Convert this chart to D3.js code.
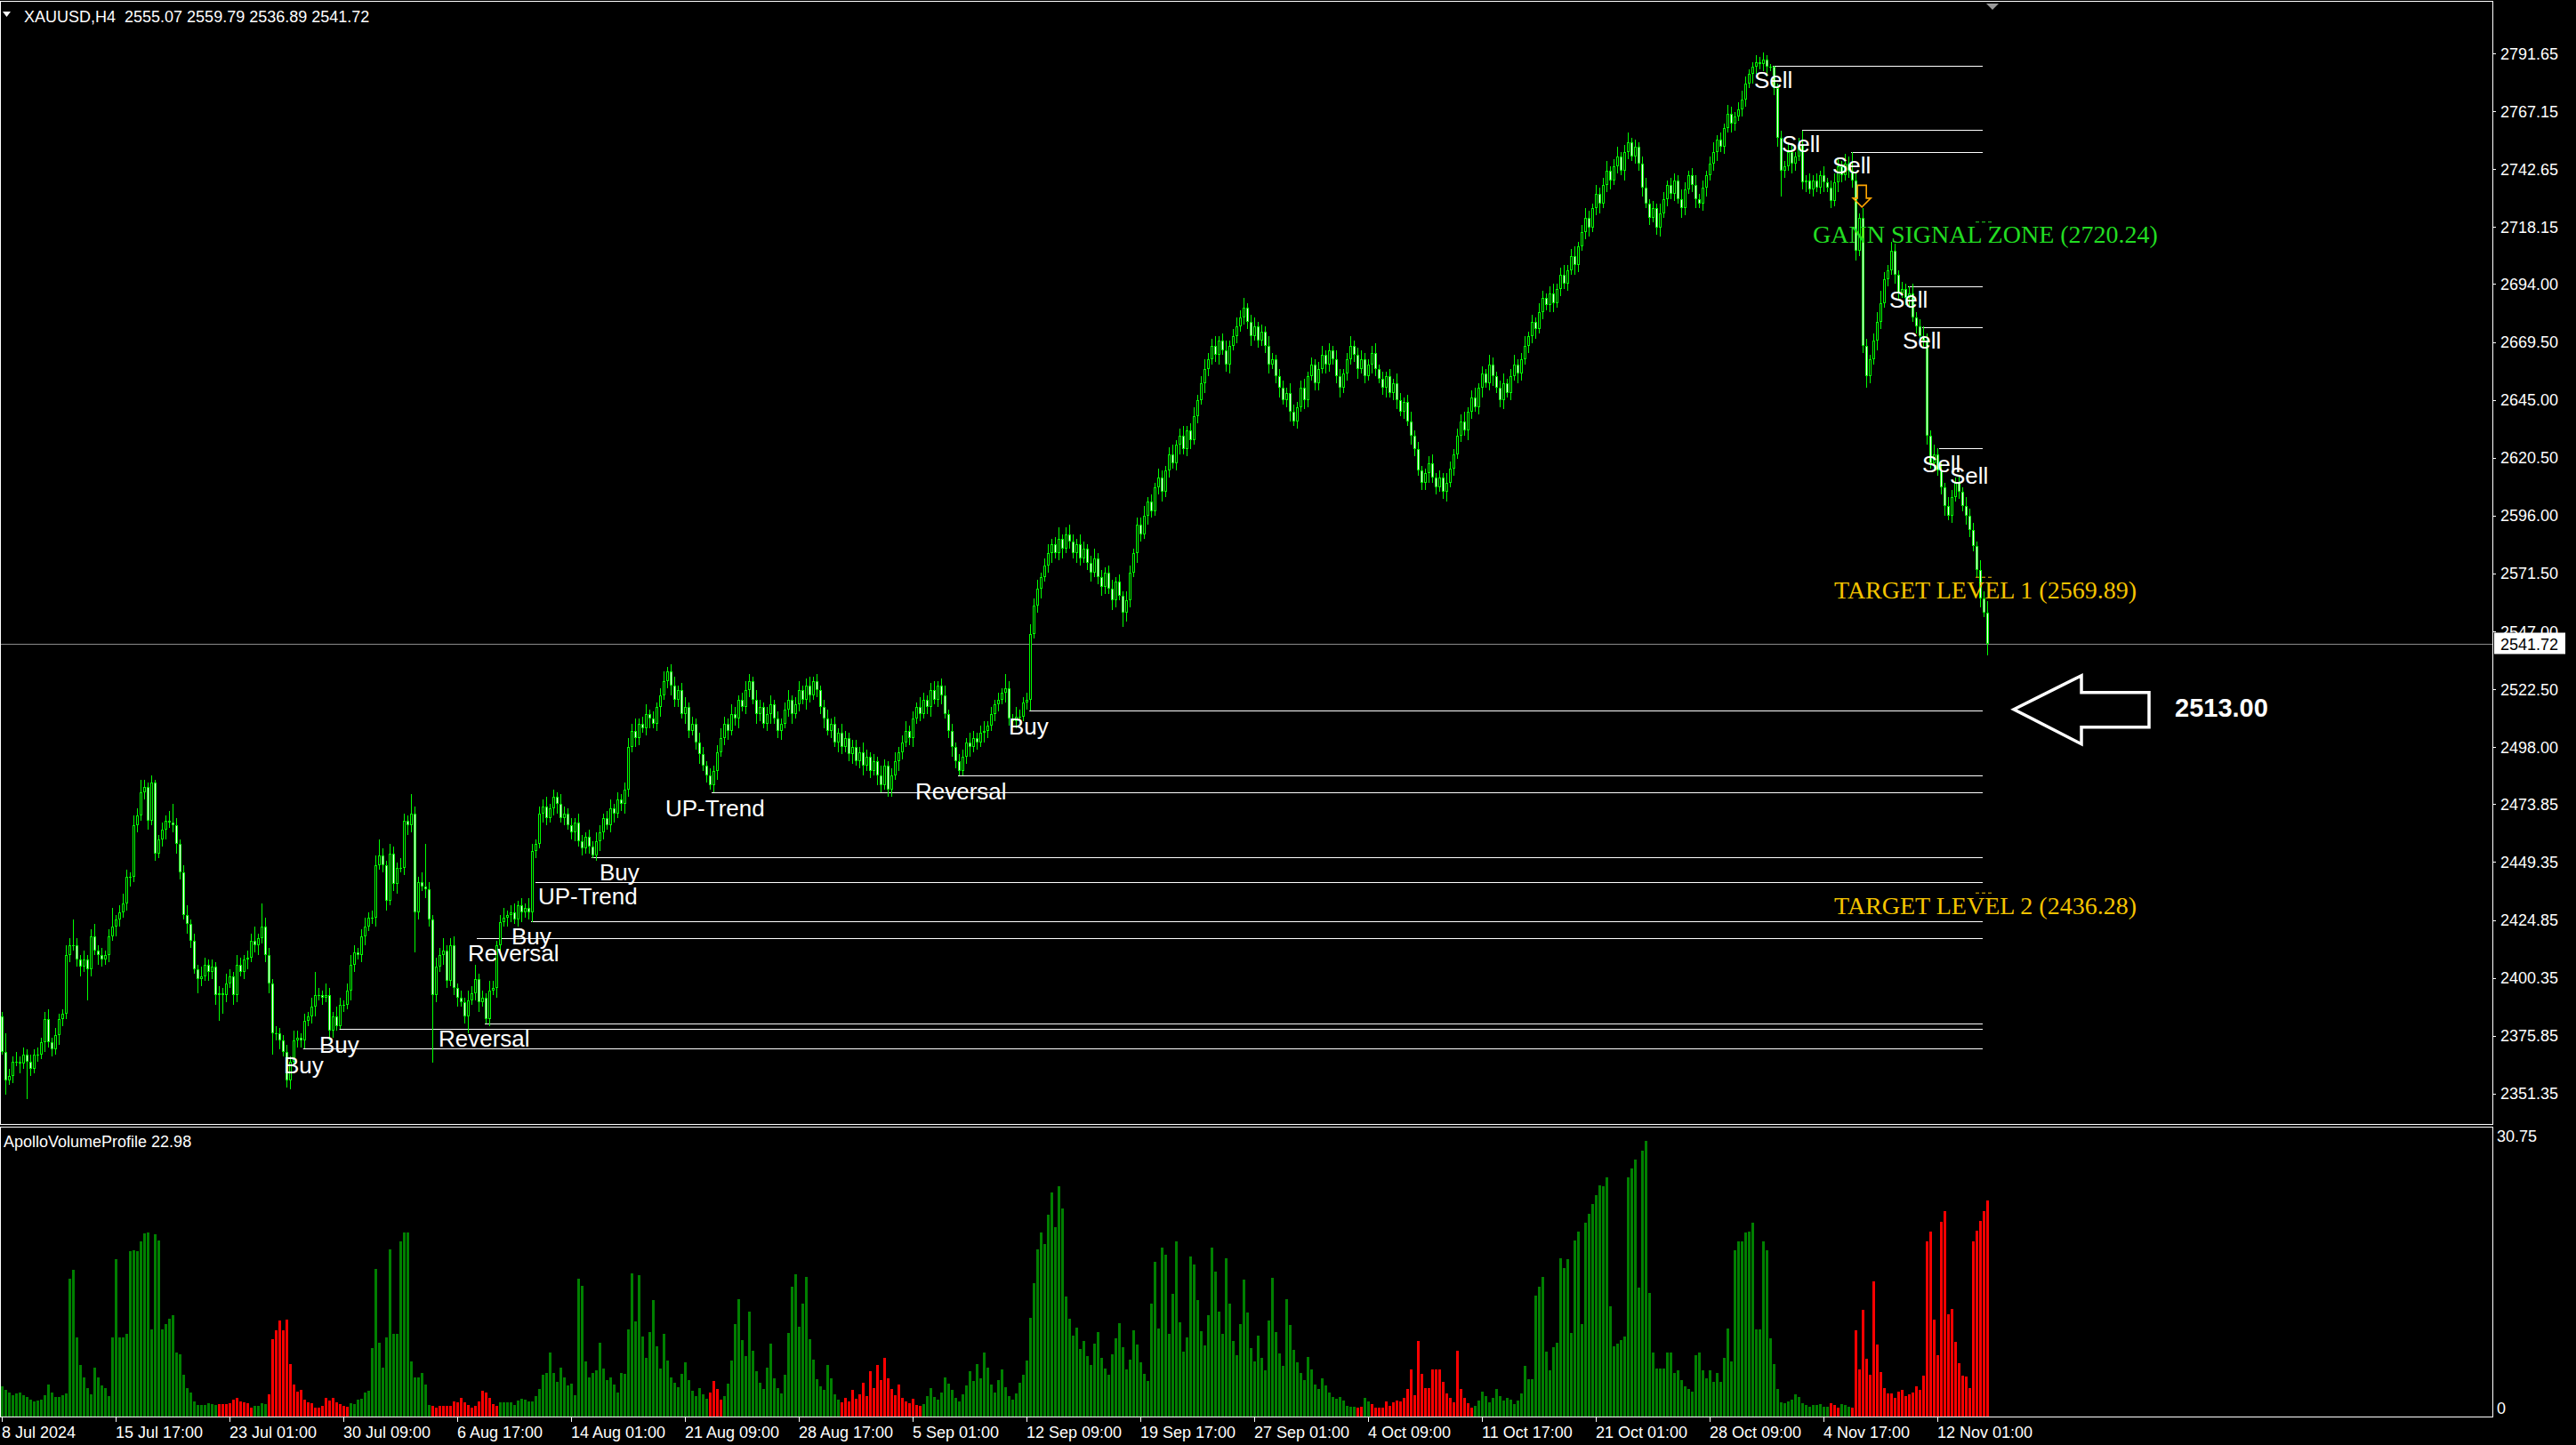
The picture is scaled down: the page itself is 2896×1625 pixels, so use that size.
<!DOCTYPE html>
<html><head><meta charset="utf-8">
<script src="https://cdn.jsdelivr.net/npm/d3@7/dist/d3.min.js"></script>
<style>html,body{margin:0;padding:0;background:#000;overflow:hidden}</style>
</head><body><svg id="c" width="2896" height="1625"></svg>
<script>
// ---------- DATA ----------
const symbolTitle = "XAUUSD,H4";
const lastQuote = [2555.07, 2559.79, 2536.89, 2541.72]; // O H L C of last bar
const firstOpen = 2384;
const closes = [
2369,2357,2359,2365,2365,2364,2368,2365,2362,2368,
2368,2373,2383,2373,2370,2376,2383,2385,2410,2414,
2414,2408,2405,2408,2404,2418,2412,2410,2408,2410,
2418,2422,2425,2428,2432,2443,2443,2465,2469,2479,
2481,2467,2483,2453,2459,2463,2467,2466,2465,2457,
2445,2427,2423,2416,2404,2400,2401,2406,2403,2405,
2393,2394,2393,2398,2401,2393,2406,2403,2408,2409,
2416,2414,2417,2422,2410,2398,2377,2377,2374,2369,
2357,2365,2374,2375,2374,2382,2384,2388,2393,2393,
2392,2393,2378,2384,2380,2389,2389,2395,2406,2411,
2410,2418,2422,2426,2426,2448,2452,2448,2433,2453,
2440,2447,2447,2467,2465,2470,2428,2441,2439,2438,
2425,2393,2405,2410,2412,2399,2414,2396,2392,2390,
2384,2391,2394,2400,2390,2392,2383,2395,2396,2414,
2424,2426,2427,2428,2425,2431,2428,2430,2428,2454,
2457,2470,2473,2468,2472,2477,2474,2468,2470,2465,
2462,2466,2458,2455,2460,2456,2452,2458,2462,2468,
2465,2472,2470,2476,2474,2480,2498,2505,2502,2508,
2506,2512,2510,2508,2515,2520,2526,2530,2524,2518,
2522,2512,2515,2505,2508,2500,2495,2490,2486,2482,
2488,2496,2502,2508,2505,2512,2510,2518,2515,2522,
2526,2518,2512,2515,2508,2512,2516,2510,2505,2508,
2514,2518,2512,2516,2522,2518,2524,2520,2526,2522,
2515,2510,2505,2508,2500,2504,2498,2502,2495,2498,
2492,2496,2490,2494,2488,2492,2486,2482,2490,2480,
2486,2492,2496,2500,2505,2502,2510,2515,2512,2518,
2515,2522,2518,2524,2520,2512,2505,2498,2492,2488,
2494,2500,2498,2502,2500,2504,2505,2507,2512,2516,
2518,2521,2523,2510,2509,2511,2511,2517,2518,2546,
2558,2565,2570,2575,2580,2584,2580,2586,2582,2588,
2585,2580,2584,2578,2582,2576,2572,2578,2570,2566,
2572,2565,2560,2568,2562,2555,2560,2572,2580,2592,
2588,2596,2602,2598,2608,2612,2606,2615,2622,2618,
2626,2630,2624,2632,2628,2638,2645,2652,2658,2662,
2668,2664,2670,2666,2660,2668,2672,2676,2680,2684,
2678,2672,2676,2670,2674,2668,2660,2662,2655,2650,
2645,2648,2640,2636,2642,2650,2645,2655,2660,2652,
2658,2664,2660,2666,2662,2655,2650,2656,2662,2668,
2664,2658,2662,2655,2660,2665,2658,2654,2650,2655,
2648,2652,2645,2640,2644,2636,2630,2624,2615,2610,
2614,2618,2612,2608,2612,2606,2610,2616,2622,2630,
2636,2632,2640,2646,2642,2650,2656,2652,2660,2655,
2650,2645,2652,2648,2655,2660,2656,2662,2668,2672,
2678,2675,2682,2688,2685,2690,2686,2692,2698,2694,
2700,2706,2702,2710,2716,2722,2718,2726,2732,2728,
2736,2742,2738,2744,2748,2742,2750,2754,2748,2752,
2745,2735,2728,2722,2726,2718,2724,2730,2736,2732,
2738,2730,2726,2734,2740,2736,2730,2728,2735,2740,
2745,2750,2755,2752,2760,2766,2762,2765,2768,2772,
2779,2783,2786,2788,2787,2789,2786,2786,2777,2756,
2742,2744,2750,2745,2748,2753,2737,2738,2734,2738,
2735,2740,2737,2735,2729,2737,2744,2740,2745,2742,
2738,2708,2722,2668,2655,2662,2670,2678,2686,2696,
2700,2708,2698,2690,2692,2688,2690,2680,2676,2672,
2670,2630,2618,2622,2615,2608,2600,2596,2604,2610,
2606,2600,2596,2590,2583,2573,2561,2555.07,2541.72];
const upperWick = [
2,8,3,2,4,2,3,2,3,2, 3,2,3,4,2,3,2,2,4,3, 11,3,2,4,2,3,5,2,3,2, 3,8,2,3,4,3,2,4,3,5,
3,2,3,1,2,3,2,4,8,3, 2,3,4,2,3,2,4,3,2,3, 2,3,2,4,3,2,4,3,2,3, 3,6,2,10,4,3,2,3,2,2,
3,2,4,3,2,3,2,4,10,3, 2,5,3,2,4,3,2,3,4,3, 2,3,4,2,3,4,7,3,2,4, 3,2,4,3,2,8,3,2,4,18,
3,2,4,3,5,2,3,4,2,3, 2,4,3,6,2,3,2,4,3,2, 3,4,2,3,4,2,3,2,4,3, 2,3,3,4,2,3,2,4,3,2,
3,2,4,3,2,3,2,4,3,2, 3,4,2,3,2,3,4,3,5,2, 3,4,2,3,2,3,4,2,3,4, 2,3,4,2,3,2,4,3,2,3,
2,3,4,3,2,4,3,2,3,4, 3,2,4,3,2,3,4,2,3,2, 3,4,2,3,4,2,3,4,2,3, 2,3,4,2,3,2,4,3,2,3,
3,2,4,3,2,3,2,4,3,2, 3,4,2,3,4,2,3,2,4,3, 2,3,4,2,3,4,2,3,2,3, 3,2,4,3,2,3,4,2,3,2,
3,2,6,3,2,4,3,2,3,4, 3,4,2,3,4,2,3,5,2,3, 4,3,2,4,3,2,3,4,2,3, 2,3,4,2,3,2,4,3,2,3,
3,4,2,3,2,4,3,2,3,4, 2,3,4,2,3,4,2,3,4,3, 3,4,2,3,4,2,3,4,3,4, 2,3,4,2,3,2,4,3,2,3,
3,2,4,3,2,3,4,2,3,2, 3,4,2,3,2,4,3,2,3,4, 2,3,4,3,2,3,4,2,3,2, 3,2,4,3,2,3,4,2,3,2,
2,3,4,2,3,2,4,3,2,3, 3,4,2,3,4,2,3,2,4,3, 2,3,4,2,3,4,2,3,4,2, 3,2,4,3,2,3,4,2,3,4,
2,3,4,2,3,4,3,2,4,3, 3,4,2,3,4,2,3,4,2,3, 2,3,4,2,3,2,4,3,2,3, 3,2,4,3,2,3,4,2,3,2,
3,4,2,3,2,4,3,2,3,4, 3,2,2,3,2,3,2,1,0.3,2, 3,2,4,3,2,3,6,2,3,2, 3,2,4,2,3,4,3,2,4,3,
8,3,2,4,3,2,3,4,5,3, 2,4,3,2,3,2,3,4,2,3, 4,3,2,4,2.5,3,2,4,3,2, 3,2,4,3,3,2,4,3,4.72];
const lowerWick = [
1,6,2,3,2,4,2,16,3,2, 3,2,4,2,3,2,4,3,2,3, 2,3,4,2,13,3,2,4,3,2, 3,2,4,3,2,3,4,2,3,2,
3,4,2,3,2,3,4,2,3,4, 3,2,4,3,2,6,3,2,4,3, 4,11,8,3,2,4,3,2,3,4, 2,3,4,2,3,4,9,3,4,2,
3,4,2,3,3,3.6,2,3,4,2, 3,2,4,3,2,1.4,3,2,4,3, 2,3,4,2,3,4,2,3,4,2, 3,4,2,3,4,3,17,3,2,4,
3,28.5,3,2,4,3,2,3,4,2, 3,7,2,3,4,2,2,3,2,4, 3,2,4,3,2,3,4,2,3,4, 3,2,4,3,2,3,4,2,3,2,
3,4,2,3,2,3,1,2,4,3, 2,3,4,2,3,4,3,2,4,3, 2,3,4,2,3,4,2,3,4,3, 3,2,4,3,2,3,4,2,3,2,
3,4,2,3,4,2,3,4,2,3, 3,2,4,3,2,3,4,2,3,4, 2,3,4,2,3,2,4,3,2,3, 3,4,2,3,2,4,3,2,3,4,
2,3,4,2,3,2,4,3,2,3, 3,2,4,3,2,3,4,2,3,2, 3,4,2,3,4,2,3,4,3,2, 2,3,4,2,3,2,4,3,2,3,
3,2,4,3,2,3,4,2,3,4.6, 2,3,4,2,3,4,2,3,4,2, 3,2,4,3,2,3,4,2,3,4, 3,2,4,3,2,6,4,3,2,4,
3,2,4,3,2,3,4,2,3,2, 3,4,2,3,4,2,3,2,4,3, 2,3,4,2,3,4,2,3,2,3, 3,4,2,3,2,3,4,2,3,4,
2,3,4,2,3,2,4,3,2,3, 3,2,4,3,2,3,4,2,3,2, 3,4,2,3,2,4,3,2,3,4, 2,3,4,2,3,2,4,3,2,3,
3,4,2,3,2,3,4,2,3,2, 3,2,4,3,2,3,4,2,3,4, 2,3,4,2,3,2,4,3,2,3, 3,4,2,3,2,3,4,2,3,2,
3,2,4,3,2,3,4,2,3,4, 2,3,4,2,3,2,4,3,2,3, 3,4,2,3,2,3,4,2,3,2, 3,2,4,3,2,3,4,2,3,4,
2,3,4,2,3,2,4,3,2,3, 3,2,4,3,2,3,4,2,3,4, 11,3,2,4,3,2,3,4,2,3, 2,3,4,2,3,2,4,3,2,3,
3,4,2,3,5,3,2,4,3,2, 3,2,4,3,2,3,4,2,3,2, 3,4,2,3,2,3,4,2,3,2, 3,2,4,3,2,3,4,2,4.83];
const volumes = [
3.2,2.8,2.6,2.3,2.5,2.6,2.3,2.1,1.8,1.6, 1.7,1.8,2.3,3.4,2.6,2.1,2.1,2.3,2.5,14.7,
15.6,8.4,5.5,4.2,3.0,2.4,5.2,4.2,3.3,3.0, 2.2,8.4,16.7,8.4,8.4,8.8,17.6,17.7,17.6,18.6,
19.5,19.6,9.3,19.4,18.7,9.3,9.8,10.4,10.8,6.8, 6.6,4.4,3.0,2.6,1.6,1.2,1.2,1.2,1.4,1.3,
1.2,1.3,1.3,1.3,1.4,1.8,2.0,1.6,1.5,1.4, 0.95,1.1,1.1,1.4,1.3,2.4,8.2,9.2,10.2,9.2,
10.3,5.6,3.4,2.65,2.8,1.8,1.55,1.45,0.98,0.98, 1.17,2.0,1.7,2.0,1.55,1.36,1.17,1.07,1.45,1.36,
1.83,1.92,2.59,2.78,7.3,15.7,7.9,5.2,8.4,17.8, 8.8,8.8,18.6,19.6,19.6,5.9,4.2,4.2,4.6,3.4,
1.26,1.17,0.98,1.17,1.17,1.17,1.17,1.64,1.55,2.0, 1.55,1.26,0.98,1.17,1.64,2.78,2.59,2.0,1.36,1.17,
1.55,1.55,1.55,1.55,1.26,1.73,1.92,1.83,1.64,1.64, 2.21,2.96,4.4,4.6,6.8,4.6,3.7,5.2,4.2,3.3,
3.5,2.3,14.7,13.9,5.9,4.2,4.6,4.95,7.9,5.1, 3.9,4.2,3.4,2.6,4.6,
4.5,9.3,15.2,10.1,15.0,8.5,6.2,9.0,12.4,7.5,5.1,8.8,6.0,4.2,3.6,
3.1,4.5,5.8,3.9,2.7,2.2,3.0,2.4,1.9,
2.6,3.8,2.9,1.8,
2.2,3.5,6.0,9.8,12.5,8.1,6.4,11.2,7.0,4.8,3.6,2.9,5.2,7.8,4.1,3.0,2.5,4.4,8.9,13.8,15.1,9.6,12.0,14.9,8.2,6.1,4.0,3.2,2.8,5.5,4.1,2.4,
1.8,1.5,2.0,1.6,2.8,1.9,2.4,3.6,2.2,4.8,3.0,5.5,3.9,6.2,4.1,2.9,2.3,3.4,2.0,1.6,1.4,1.9,1.2,1.1,
1.3,2.2,3.0,2.1,1.8,2.6,4.2,3.5,2.8,2.0,1.6,2.4,3.3,4.8,3.8,5.6,4.1,6.8,5.2,3.4,2.6,3.9,5.0,3.1,2.2,1.8,2.5,3.6,4.4,6.0,
10.5,14.2,17.8,19.6,18.4,21.5,23.8,20.2,24.5,22.1,12.8,10.4,8.6,9.5,7.2,8.0,6.4,
5.5,7.8,9.0,6.2,5.1,4.4,6.6,8.3,9.9,7.4,5.0,6.1,9.2,7.7,5.8,4.5,3.8,
12.0,16.5,9.4,18.0,17.2,8.8,13.1,18.6,10.0,6.9,8.4,17.0,16.2,12.4,9.1,7.6,10.8,18.0,
15.4,11.2,8.8,16.8,12.0,8.0,6.5,9.8,14.6,11.1,7.3,5.9,8.6,6.2,4.9,
10.2,14.8,9.0,6.7,5.4,12.5,9.7,7.1,5.8,4.6,3.9,6.3,5.0,3.4,2.9,4.1,3.3,2.6,2.1,
1.89,2.11,1.73,1.17,1.07,1.07,0.98,1.07,2.02,1.64, 1.36,0.98,0.98,0.98,1.64,1.17,1.55,1.73,1.64,2.02,
2.96,5.05,2.30,8.07,4.57,3.06,3.06,5.05,5.05,5.05, 3.72,2.49,2.02,1.55,7.03,2.96,2.02,1.45,0.98,1.17,
1.73,2.68,2.21,1.55,2.02,2.96,2.21,1.73,2.02,1.83, 1.36,1.73,2.49,5.42,4.01,4.01,12.9,13.85,14.89,6.94,
4.95,7.41,7.89,16.87,15.83,16.78,8.93,18.77,19.71,9.87, 20.66,21.6,22.65,23.59,24.63,24.54,25.48,11.76,7.51,7.79,
8.17,8.55,25.48,26.43,27.38,13.75,28.32,29.36,13.18,6.84, 5.14,5.14,5.14,6.84,6.84,4.67,4.95,3.91,3.25,2.96,
2.68,6.56,6.84,4.95,4.10,4.95,3.72,4.67,3.72,6.28, 9.40,5.90,17.73,18.67,18.67,19.62,19.71,20.66,9.30,9.30,
18.67,17.73,8.36,5.61,2.96,1.55,1.45,1.64,1.83,2.40, 2.11,1.45,1.26,1.07,1.26,1.26,1.36,1.07,1.07,1.45,
1.26,0.98,1.36,1.26,1.07,0.98,9.21,5.05,11.39,6.18, 4.48,14.41,7.70,4.76,3.06,2.49,2.49,2.02,2.68,2.87,
2.21,2.40,2.59,3.25,2.87,4.38,18.67,19.71,10.35,6.56, 20.75,21.89,10.91,11.48,7.98,5.71,4.38,4.29,3.06,18.67,
19.81,20.85,21.89,22.98];
const redRanges = [[61,70],[75,97],[121,139],[199,202],[236,258],[381,382],[385,413],[514,516],[520,558]];
const volumeName = "ApolloVolumeProfile";
const volumeMax = 30.75;
const priceTicks = ["2791.65","2767.15","2742.65","2718.15","2694.00","2669.50","2645.00","2620.50","2596.00","2571.50","2547.00","2522.50","2498.00","2473.85","2449.35","2424.85","2400.35","2375.85","2351.35"];
const dateLabels = ["8 Jul 2024","15 Jul 17:00","23 Jul 01:00","30 Jul 09:00","6 Aug 17:00","14 Aug 01:00","21 Aug 09:00","28 Aug 17:00","5 Sep 01:00","12 Sep 09:00","19 Sep 17:00","27 Sep 01:00","4 Oct 09:00","11 Oct 17:00","21 Oct 01:00","28 Oct 09:00","4 Nov 17:00","12 Nov 01:00"];
const dateLabelBars = [0,32,64,96,128,160,192,224,256,288,320,352,384,416,448,480,512,544];
// signal labels: text, bar (left edge), price (baseline)
const signalLabels = [
["Sell",492.5,2777.0],["Sell",500.25,2749.8],["Sell",514.5,2740.8],["Sell",530.5,2684.0],
["Sell",534.25,2666.7],["Sell",539.75,2614.4],["Sell",547.5,2609.5],
["Buy",79.25,2359.8],["Buy",89.25,2368.6],["Reversal",122.75,2371.2],["Reversal",131,2407.4],
["Buy",143.25,2414.5],["UP-Trend",150.75,2431.5],["Buy",168,2441.6],["UP-Trend",186.5,2468.7],
["Reversal",256.75,2475.9],["Buy",283,2503.3]];
// signal lines: price, start bar
const signalLines = [
[2786.3,497.75],[2759.2,506],[2749.8,519.75],[2692.9,535.75],[2675.9,539.75],[2624.5,544.5],
[2513.4,288.8],[2485.9,268.75],[2478.8,199.5],[2451.3,165.75],[2440.8,150],[2424.3,148.75],
[2417.1,133.5],[2380.9,135.75],[2378.6,94.9],[2370.4,84.7]];
const signalLineEnd = 556.75;
const levelNames = ["GANN SIGNAL ZONE","TARGET LEVEL 1","TARGET LEVEL 2"];
const levelPrices = [2720.24, 2569.89, 2436.28];
const gannArrow = [522.8, 2735.8];   // bar, price (top of arrow)
const targetArrow = [565.5, 2514.0]; // bar, price (tip)
const targetValue = 2513.00;

// ---------- CHART ----------
const svg = d3.select("#c");
const FONT = "'Liberation Sans', Arial, sans-serif";
const LIME = "#00ff00";
const axisX = 2802;
const x = d3.scaleLinear().domain([0, 558]).range([2, 2234]);
const y = d3.scaleLinear().domain([2338.5, 2812.73]).range([1264, 4]);
const yv = d3.scaleLinear().domain([0, volumeMax]).range([1593, 1268]);

svg.append("rect").attr("width",2896).attr("height",1625).attr("fill","#000");
const defs = svg.append("defs");
defs.append("clipPath").attr("id","clipMain").append("rect").attr("x",1).attr("y",2).attr("width",axisX-1).attr("height",1262);
defs.append("clipPath").attr("id","clipVol").append("rect").attr("x",1).attr("y",1268).attr("width",axisX-1).attr("height",325);

const candles = closes.map((c,i)=>{
  const o = i===0 ? firstOpen : closes[i-1];
  const h = Math.max(o,c) + (upperWick[i] ?? 2);
  const l = Math.min(o,c) - (lowerWick[i] ?? 2);
  return {i,o,h,l,c};
});

// current price line
const lastY = Math.round(y(lastQuote[3])) + 0.5;
svg.append("line").attr("x1",0).attr("x2",axisX).attr("y1",lastY).attr("y2",lastY)
  .attr("stroke","#8a8a8a").attr("stroke-width",1);

const gMain = svg.append("g").attr("clip-path","url(#clipMain)");

// signal lines
gMain.append("g").selectAll("line").data(signalLines).join("line")
  .attr("x1",d=>x(d[1])).attr("x2",x(signalLineEnd))
  .attr("y1",d=>Math.round(y(d[0]))+0.5).attr("y2",d=>Math.round(y(d[0]))+0.5)
  .attr("stroke","#fff").attr("stroke-width",1.2);

// candles
const gc = gMain.append("g").attr("shape-rendering","crispEdges");
gc.selectAll("rect.w").data(candles).join("rect").attr("class","w")
  .attr("x",d=>Math.round(x(d.i))).attr("width",1)
  .attr("y",d=>y(d.h)).attr("height",d=>Math.max(1,y(d.l)-y(d.h))).attr("fill",LIME);
gc.selectAll("rect.b").data(candles).join("rect").attr("class","b")
  .attr("x",d=>Math.round(x(d.i))-1).attr("width",3)
  .attr("y",d=>y(Math.max(d.o,d.c))).attr("height",d=>Math.max(1,Math.abs(y(d.o)-y(d.c)))).attr("fill",LIME);
gc.selectAll("rect.f").data(candles.filter(d=>Math.abs(y(d.o)-y(d.c))>2.5)).join("rect").attr("class","f")
  .attr("x",d=>Math.round(x(d.i))).attr("width",1)
  .attr("y",d=>y(Math.max(d.o,d.c))+1).attr("height",d=>Math.abs(y(d.o)-y(d.c))-2)
  .attr("fill",d=>d.c>=d.o ? "#000" : "#fff");

// signal labels
gMain.append("g").selectAll("text").data(signalLabels).join("text")
  .attr("x",d=>x(d[1])).attr("y",d=>y(d[2])).text(d=>d[0])
  .attr("fill","#fff").attr("font-family",FONT).attr("font-size",26);

// level texts + dashes
const levelColors = ["#22dd22","#f5c400","#f5c400"];
levelPrices.forEach((p,k)=>{
  const ly = y(p);
  svg.append("line").attr("x1",x(554.75)).attr("x2",x(560)).attr("y1",ly).attr("y2",ly)
    .attr("stroke",levelColors[k]).attr("stroke-width",1).attr("stroke-dasharray","4,3");
  svg.append("text").attr("x",x(557.5)).attr("y",ly+23.5).attr("text-anchor","middle")
    .attr("font-family","'Liberation Serif','Times New Roman',serif").attr("font-size",28)
    .attr("fill",levelColors[k]).text(`${levelNames[k]} (${p.toFixed(2)})`);
});

// gann down arrow
{
  const ax = x(gannArrow[0]), ay = y(gannArrow[1]);
  const pts = [[-5,0],[5,0],[5,14.5],[10,14.5],[0,24.5],[-10,14.5],[-5,14.5]];
  svg.append("path").attr("d","M"+pts.map(p=>[ax+p[0],ay+p[1]].join(",")).join("L")+"Z")
    .attr("fill","none").attr("stroke","#ffa500").attr("stroke-width",1.6);
}
// target arrow (left pointing)
{
  const tx = x(targetArrow[0]), ty = y(targetArrow[1]);
  const pts = [[0,0],[76,-38],[76,-19],[152,-19],[152,20],[76,20],[76,39]];
  svg.append("path").attr("d","M"+pts.map(p=>[tx+p[0],ty+p[1]].join(",")).join("L")+"Z")
    .attr("fill","#000").attr("stroke","#fff").attr("stroke-width",3.5).attr("stroke-linejoin","miter");
  svg.append("text").attr("x",tx+181).attr("y",ty+8.5).text(targetValue.toFixed(2))
    .attr("fill","#fff").attr("font-family",FONT).attr("font-weight","bold").attr("font-size",29);
}

// volume bars
const isRed = i => redRanges.some(r=>i>=r[0]&&i<=r[1]);
svg.append("g").attr("clip-path","url(#clipVol)").attr("shape-rendering","crispEdges")
  .selectAll("rect").data(volumes).join("rect")
  .attr("x",(d,i)=>Math.round(x(i))-1).attr("width",3)
  .attr("y",d=>yv(d)).attr("height",d=>yv(0)-yv(d))
  .attr("fill",(d,i)=>isRed(i) ? "#ff0000" : "#008000");

// frames
const fr = svg.append("g").attr("fill","none").attr("stroke","#fff").attr("stroke-width",1).attr("shape-rendering","crispEdges");
fr.append("rect").attr("x",0.5).attr("y",1.5).attr("width",axisX-0.5).attr("height",1263);
fr.append("rect").attr("x",0.5).attr("y",1267.5).attr("width",axisX-0.5).attr("height",326);

// price axis
const pa = svg.append("g");
pa.selectAll("line").data(priceTicks).join("line")
  .attr("x1",axisX).attr("x2",axisX+4).attr("y1",d=>Math.round(y(+d))+0.5).attr("y2",d=>Math.round(y(+d))+0.5)
  .attr("stroke","#fff");
pa.selectAll("text").data(priceTicks).join("text")
  .attr("x",2811).attr("y",d=>y(+d)+6.5).text(d=>d)
  .attr("fill","#fff").attr("font-family",FONT).attr("font-size",18);
// current price tag
svg.append("rect").attr("x",2804).attr("y",lastY-13).attr("width",80).attr("height",24).attr("fill","#fff");
svg.append("text").attr("x",2811).attr("y",lastY+6.5).text(lastQuote[3].toFixed(2))
  .attr("fill","#000").attr("font-family",FONT).attr("font-size",18);

// volume axis
svg.append("text").attr("x",2807).attr("y",1284).text(volumeMax.toFixed(2)).attr("fill","#fff").attr("font-family",FONT).attr("font-size",18);
svg.append("text").attr("x",2807).attr("y",1590).text("0").attr("fill","#fff").attr("font-family",FONT).attr("font-size",18);
svg.append("text").attr("x",4).attr("y",1290).text(`${volumeName} ${volumes[volumes.length-1].toFixed(2)}`)
  .attr("fill","#fff").attr("font-family",FONT).attr("font-size",18);

// date axis
const da = svg.append("g");
da.selectAll("line").data(dateLabelBars).join("line")
  .attr("x1",d=>Math.round(x(d))+0.5).attr("x2",d=>Math.round(x(d))+0.5).attr("y1",1594).attr("y2",1599).attr("stroke","#fff");
da.selectAll("text").data(dateLabels).join("text")
  .attr("x",(d,i)=>x(dateLabelBars[i])).attr("y",1617).text(d=>d)
  .attr("fill","#fff").attr("font-family",FONT).attr("font-size",18);

// header
svg.append("path").attr("d","M3,13L12,13L7.5,19Z").attr("fill","#fff");
svg.append("text").attr("x",27).attr("y",25)
  .text(`${symbolTitle}  ${lastQuote.map(v=>v.toFixed(2)).join(" ")}`)
  .attr("fill","#fff").attr("font-family",FONT).attr("font-size",18).attr("xml:space","preserve").style("white-space","pre");
// chart shift marker
svg.append("path").attr("d",`M${x(558)-1},4L${x(558)+13},4L${x(558)+6},11Z`).attr("fill","#9a9a9a");
</script></body></html>
